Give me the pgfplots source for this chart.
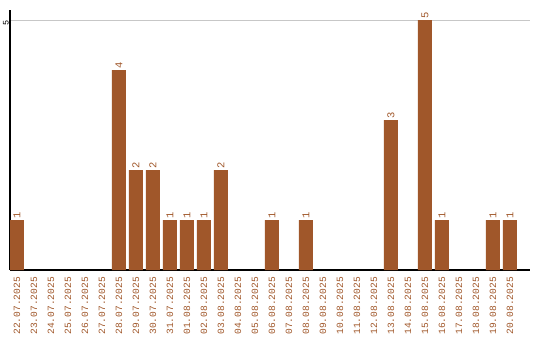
\documentclass[border=0pt]{standalone}
\usepackage{pgfplots}
\pgfplotsset{compat=1.18}
\usepackage{fontspec}
\setmonofont{Liberation Mono}
\definecolor{barc}{HTML}{A0572A}
\begin{document}
\begin{tikzpicture}
\path[use as bounding box] (-10bp,-70bp) rectangle (530bp,270bp);
\begin{axis}[at={(0,0)}, anchor=south west, scale only axis,
  width=520bp, height=260bp,
  xmin=-0.41, xmax=30.18, ymin=0, ymax=5.2,
  axis x line*=bottom, axis y line*=left,
  axis line style={black, line width=1.2bp, -},
  ytick={5}, yticklabels={\ttfamily 5}, ymajorgrids, grid style={black!22, line width=0.8bp},
  xtick={0,...,29},
  xticklabels={22.07.2025,23.07.2025,24.07.2025,25.07.2025,26.07.2025,27.07.2025,28.07.2025,29.07.2025,30.07.2025,31.07.2025,01.08.2025,02.08.2025,03.08.2025,04.08.2025,05.08.2025,06.08.2025,07.08.2025,08.08.2025,09.08.2025,10.08.2025,11.08.2025,12.08.2025,13.08.2025,14.08.2025,15.08.2025,16.08.2025,17.08.2025,18.08.2025,19.08.2025,20.08.2025},
  xticklabel style={rotate=90, anchor=east, font=\ttfamily\fontsize{9.6}{10}\selectfont, text=barc, inner sep=0pt, xshift=-7bp},
  yticklabel style={rotate=90, anchor=south, font=\ttfamily\fontsize{8.5}{9}\selectfont, text=black, inner sep=1bp, xshift=-3bp},
  major tick length=0pt,
]
\addplot[ybar, bar width=14bp, fill=barc, draw=none,
  nodes near coords,
  nodes near coords style={rotate=90, anchor=west, font=\ttfamily\fontsize{10.5}{11}\selectfont, text=barc, inner sep=1.5bp, /pgf/number format/assume math mode=true}]
coordinates {(0,1) (6,4) (7,2) (8,2) (9,1) (10,1) (11,1) (12,2) (15,1) (17,1) (22,3) (24,5) (25,1) (28,1) (29,1)};
\end{axis}
\end{tikzpicture}
\end{document}
